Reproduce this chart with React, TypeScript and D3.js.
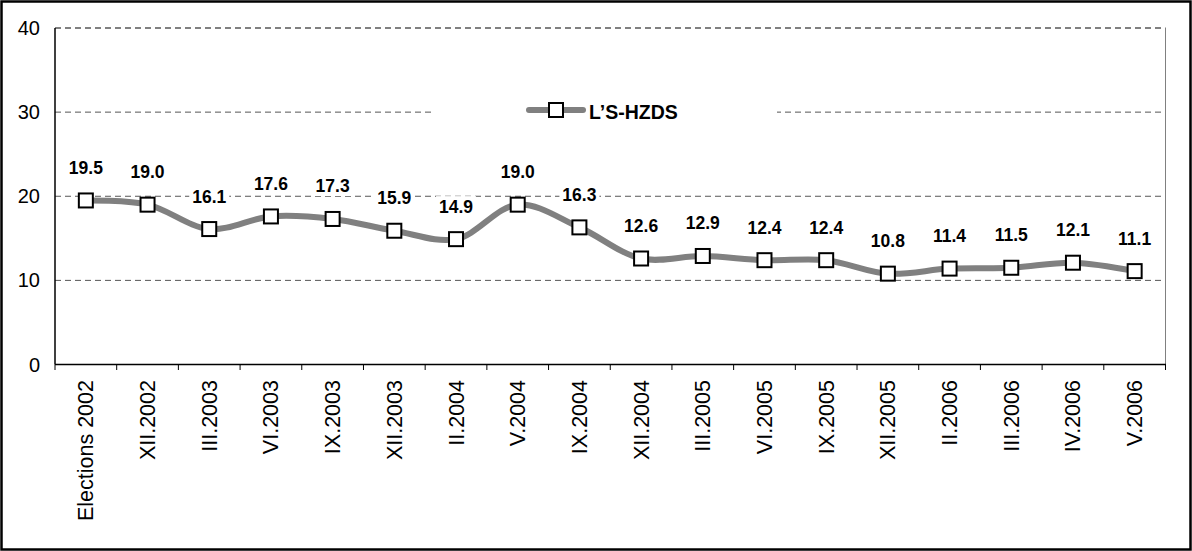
import React from "react";
import * as d3 from "d3";

const categories = ["Elections 2002","XII.2002","III.2003","VI.2003","IX.2003","XII.2003","II.2004","V.2004","IX.2004","XII.2004","III.2005","VI.2005","IX.2005","XII.2005","II.2006","III.2006","IV.2006","V.2006"];
const values = [19.5,19.0,16.1,17.6,17.3,15.9,14.9,19.0,16.3,12.6,12.9,12.4,12.4,10.8,11.4,11.5,12.1,11.1];
const yTicks = [0,10,20,30,40];
const seriesName = "L\u2019S-HZDS";

const W = 1192, H = 551;
const FONT = "'Liberation Sans', Arial, sans-serif";

export default function App() {
  const x = d3.scaleBand<string>().domain(categories).range([55, 1165.5]);
  const y = d3.scaleLinear().domain([0, 40]).range([364.5, 28]);
  const cx = (c: string) => (x(c) as number) + x.bandwidth() / 2;
  const pts: [number, number][] = categories.map((c, i) => [cx(c), y(values[i])]);
  const line = d3.line<[number, number]>().curve(d3.curveCatmullRom.alpha(0.5))(pts) as string;
  const boundaries = categories.map((c) => x(c) as number).concat([x.range()[1]]);

  return (
    <svg width={W} height={H} style={{ position: "absolute", left: 0, top: 0 }}>
      <rect x={0} y={0} width={W} height={H} fill="#fff" />
      <rect x={1.5} y={1.5} width={W - 3} height={H - 3} fill="none" stroke="#000" strokeWidth={2.5} />
      {yTicks.filter((t) => t > 0).map((t) => (
        <line key={t} x1={55} x2={1165.5} y1={y(t)} y2={y(t)} stroke={t === 40 ? "#000" : "#555"} strokeWidth={1} strokeDasharray="6,4" />
      ))}
      <line x1={1165.5} x2={1165.5} y1={28} y2={364.5} stroke="#808080" strokeWidth={1} />
      <line x1={55} x2={55} y1={28} y2={364.5} stroke="#000" strokeWidth={1.5} />
      <line x1={55} x2={1166} y1={364.5} y2={364.5} stroke="#000" strokeWidth={1.5} />
      {boundaries.map((b, i) => (
        <line key={i} x1={b} x2={b} y1={364.5} y2={370} stroke="#000" strokeWidth={1} />
      ))}
      {yTicks.map((t) => (
        <text key={t} x={40} y={y(t)} dy="0.35em" textAnchor="end" fontFamily={FONT} fontSize={20} fill="#000">{t}</text>
      ))}
      {categories.map((c) => (
        <text key={c} transform={`translate(${cx(c) + 7.5},380) rotate(-90)`} textAnchor="end" fontFamily={FONT} fontSize={21.5} fill="#000">{c}</text>
      ))}
      <rect x={433} y={100} width={344} height={24} fill="#fff" />
      <line x1={529} x2={583} y1={110} y2={110} stroke="#808080" strokeWidth={6} strokeLinecap="round" />
      <rect x={549} y={103} width={14} height={14} fill="#fff" stroke="#000" strokeWidth={2} />
      <text x={589} y={119} fontFamily={FONT} fontSize={19.5} fontWeight="bold" fill="#000">{seriesName}</text>
      {categories.map((c, i) => (
        <g key={c}>
          <rect x={cx(c) - 20} y={y(values[i]) - 43} width={40} height={20} fill="#fff" />
          <text x={cx(c)} y={y(values[i]) - 26.5} textAnchor="middle" fontFamily={FONT} fontSize={17.5} fontWeight="bold" fill="#000">{values[i].toFixed(1)}</text>
        </g>
      ))}
      <path d={line} fill="none" stroke="#808080" strokeWidth={6} />
      {pts.map((p, i) => (
        <rect key={i} x={p[0] - 7} y={p[1] - 7} width={14} height={14} fill="#fff" stroke="#000" strokeWidth={2} />
      ))}
    </svg>
  );
}
